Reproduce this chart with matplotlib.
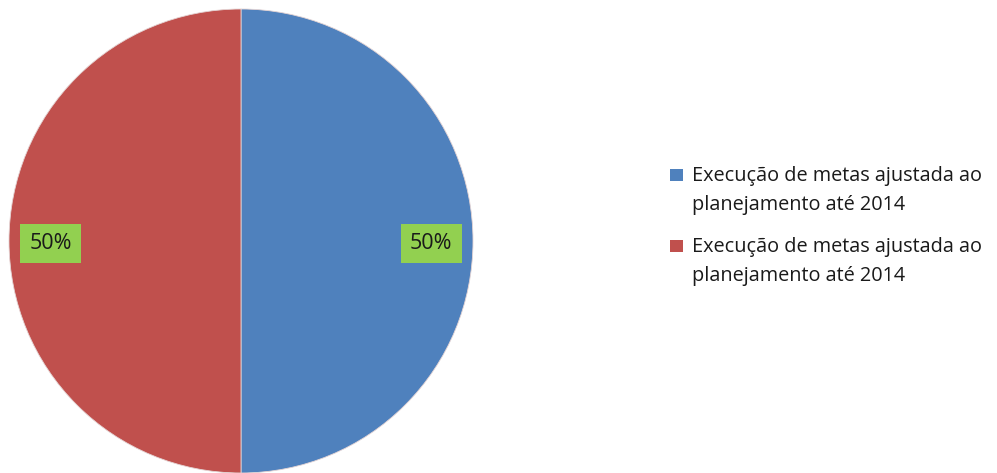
import numpy as np
import matplotlib.pyplot as plt
from matplotlib.patches import Rectangle

# two equal shares of the goal execution
labels = ["Execução de metas ajustada ao\nplanejamento até 2014",
          "Execução de metas ajustada ao\nplanejamento até 2014"]
values = [50, 50]
colors = ["#4F81BD", "#C0504D"]

plt.rcParams['font.family'] = ['Open Sans', 'DejaVu Sans']

fig = plt.figure(figsize=(9.97, 4.73), dpi=100)
W, H = 997, 473
# pie axes in pixel units: radius 232, centre at (241, 241)
ax = fig.add_axes([9 / W, 0, 464 / W, 464 / H])
wedges, texts = ax.pie(values, colors=colors, startangle=90, counterclock=False,
                       radius=1, wedgeprops=dict(linewidth=0.6, edgecolor="#e4d4d4"))
ax.set_xlim(-1, 1)
ax.set_ylim(-1, 1)
ax.set_aspect('auto')
ax.axis('off')

# value labels on green boxes
total = sum(values)
start = 90
for v in values:
    ang = start - 360 * v / total / 2
    start -= 360 * v / total
    x = 0.82 * np.cos(np.radians(ang))
    y = 0.82 * np.sin(np.radians(ang)) - 0.01
    ax.text(x, y, "%d%%" % round(100 * v / total), ha='center', va='center',
            fontsize=15.5, color='#1a1a1a',
            bbox=dict(boxstyle='square,pad=0.42', fc='#92D050', ec='none'))

# legend drawn by hand: square next to the first line of each entry
for i, (lab, c) in enumerate(zip(labels, colors)):
    base = 181 + 71 * i
    fig.patches.append(Rectangle((670 / W, 1 - base / H), 13 / W, 12 / H,
                                 transform=fig.transFigure,
                                 facecolor=c, edgecolor='none'))
    for k, line in enumerate(lab.split('\n')):
        fig.text(692 / W, 1 - (base + 29 * k) / H, line, ha='left', va='baseline',
                 fontsize=14.3, color='#1a1a1a')

fig.savefig("out.png", dpi=100)
